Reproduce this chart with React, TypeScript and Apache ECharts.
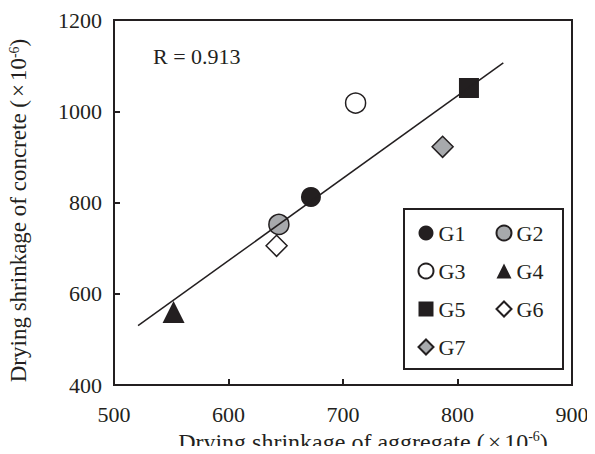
import React, { useEffect, useRef } from "react";
import * as echarts from "echarts";

const groups = ["G1", "G2", "G3", "G4", "G5", "G6", "G7"];
const aggShrink = [672, 644, 711, 552, 810, 642, 787];
const concShrink = [812, 752, 1018, 560, 1051, 705, 922];
const symbols = ["circle", "circle", "circle", "triangle", "rect", "diamond", "diamond"];
const fills = ["#231f20", "#a7a9ac", "#ffffff", "#231f20", "#231f20", "#ffffff", "#a7a9ac"];
const fitX = [521, 840];
const fitY = [530, 1106];
const xTicks = [500, 600, 700, 800, 900];
const yTicks = [400, 600, 800, 1000, 1200];
const rText = "R = 0.913";
const legendLeftCol = ["G1", "G3", "G5", "G7"];
const legendRightCol = ["G2", "G4", "G6"];

const INK = "#231f20";
const FONT = "'Liberation Serif', 'Times New Roman', serif";

export default function App() {
  const ref = useRef<HTMLDivElement>(null);
  useEffect(() => {
    if (!ref.current) return;
    const chart = echarts.init(ref.current, undefined, { renderer: "svg" });
    const symSize = (s: string) => (s === "triangle" ? 22 : s === "diamond" ? 21 : 20);
    const scatter = groups.map((g, i) => ({
      name: g,
      type: "scatter",
      data: [[aggShrink[i], concShrink[i]]],
      symbol: symbols[i],
      symbolSize: symSize(symbols[i]),
      itemStyle: {
        color: fills[i],
        borderColor: INK,
        borderWidth: fills[i] === INK ? 0 : 1.5,
        opacity: 1,
      },
      z: 2,
    }));
    const mkRich = (fs: number) => ({
      sup: { fontFamily: FONT, fontSize: 14, color: INK, verticalAlign: "top", padding: [0, 0, 8, 0] },
      x: { fontFamily: FONT, fontSize: fs, color: INK, padding: [0, 3, 0, 3] },
    });
    const fmt = (v: number) => String(v);
    const legendBase = {
      orient: "vertical",
      itemWidth: 15,
      itemHeight: 15,
      itemGap: 16,
      itemTextGap: 3,
      padding: 0,
      z: 6,
      textStyle: { fontFamily: FONT, fontSize: 22, color: INK },
      selectedMode: false,
    };
    chart.setOption({
      animation: false,
      textStyle: { fontFamily: FONT, color: INK },
      grid: {
        left: 114,
        top: 20,
        right: 23,
        bottom: 69,
        show: true,
        borderColor: INK,
        borderWidth: 2,
        outerBoundsMode: "none",
        containLabel: false,
      },
      xAxis: {
        type: "value",
        min: xTicks[0],
        max: xTicks[xTicks.length - 1],
        interval: 100,
        axisLine: { show: true, lineStyle: { color: INK, width: 2 } },
        axisTick: { show: true, inside: true, length: 6, lineStyle: { color: INK, width: 2 } },
        splitLine: { show: false },
        axisLabel: { fontFamily: FONT, fontSize: 22, color: INK, margin: 18, formatter: fmt },
        name: "Drying shrinkage of aggregate ({x|×}10{sup|-6})",
        nameLocation: "middle",
        nameGap: 36,
        nameTextStyle: {
          fontFamily: FONT,
          fontSize: 24,
          color: INK,
          rich: mkRich(24),
          padding: [0, 0, 0, 40],
        },
      },
      yAxis: {
        type: "value",
        min: yTicks[0],
        max: yTicks[yTicks.length - 1],
        interval: 200,
        axisLine: { show: true, lineStyle: { color: INK, width: 2 } },
        axisTick: { show: true, inside: true, length: 6, lineStyle: { color: INK, width: 2 } },
        splitLine: { show: false },
        axisLabel: { fontFamily: FONT, fontSize: 22, color: INK, margin: 12, formatter: fmt },
        name: "Drying shrinkage of concrete ({x|×}10{sup|-6})",
        nameLocation: "middle",
        nameGap: 84,
        nameTextStyle: {
          fontFamily: FONT,
          fontSize: 23,
          color: INK,
          rich: mkRich(23),
          padding: [0, 16, 0, 0],
        },
      },
      legend: [
        { ...legendBase, data: legendLeftCol, left: 417.5, top: 222 },
        { ...legendBase, data: legendRightCol, left: 495.5, top: 222 },
      ],
      graphic: [
        {
          type: "rect",
          left: 403,
          top: 208,
          z: 5,
          shape: { width: 159, height: 160 },
          style: { fill: "#ffffff", stroke: INK, lineWidth: 2 },
        },
        {
          type: "text",
          left: 153,
          top: 45,
          style: { text: rText, fontFamily: FONT, fontSize: 22, fill: INK },
        },
      ],
      series: [
        ...scatter,
        {
          name: "fit",
          type: "line",
          data: fitX.map((x, i) => [x, fitY[i]]),
          symbol: "none",
          lineStyle: { color: INK, width: 1.5 },
          z: 3,
        },
      ],
    });
    return () => chart.dispose();
  }, []);
  return <div ref={ref} style={{ width: 595, height: 454, margin: -8 }} />;
}
